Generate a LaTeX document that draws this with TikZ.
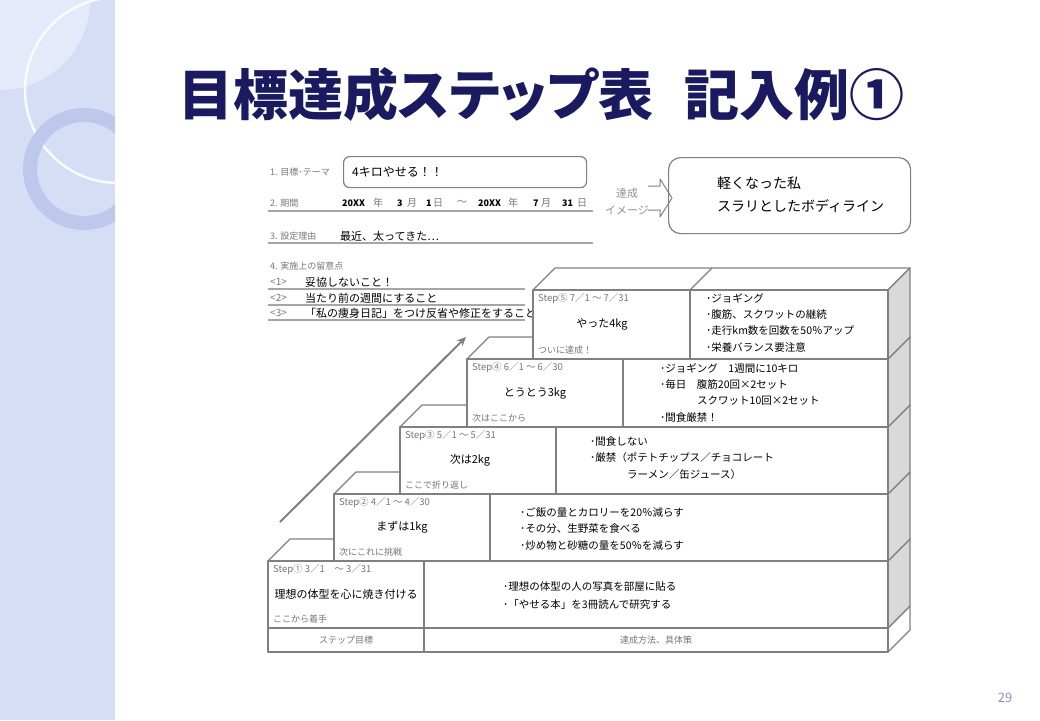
\documentclass[tikz,border=0pt]{standalone}
\usepackage{fontspec}
\setmainfont{Noto Sans CJK JP}
\newfontfamily\titlefont{Noto Sans CJK JP}[RawFeature=+palt]
\usetikzlibrary{arrows.meta}

\definecolor{sidebg}{RGB}{214,222,246}
\definecolor{sidelight}{RGB}{228,234,250}
\definecolor{ringblue}{RGB}{188,197,236}
\definecolor{titleblue}{RGB}{26,26,96}
\definecolor{linegray}{RGB}{128,128,128}
\definecolor{labelgray}{RGB}{118,118,118}
\definecolor{sidegray}{RGB}{217,217,217}
\definecolor{pagegray}{RGB}{140,146,190}

\tikzstyle{cell} = [draw=linegray, line width=1.2pt, fill=white, line join=round]
\tikzstyle{side face} = [cell, fill=sidegray]
\tikzstyle{greytext} = [font=\fontsize{9}{10}\selectfont, text=labelgray, inner sep=0pt, anchor=west]
\tikzstyle{hand} = [font=\fontsize{10.5}{12}\selectfont, text=black, inner sep=0pt, anchor=west]
\tikzstyle{form rule} = [draw=linegray!70, line width=1.5pt]
\tikzstyle{title text} = [font=\titlefont\bfseries\fontsize{55}{60}\selectfont, text=titleblue, inner sep=0pt]

\begin{document}
\begin{tikzpicture}[x=1pt,y=-1pt]
\useasboundingbox (0,0) rectangle (1040,720);

% sidebar
\fill[sidebg] (0,0) rectangle (115,720);
\begin{scope}
  \clip (0,0) rectangle (115,720);
  \fill[sidelight] (0,0) -- (90,0) arc[start angle=0, end angle=90, radius=90] -- cycle;
  \draw[white, opacity=0.85, line width=2.5pt] (118,90) circle[radius=93];
  \draw[ringblue, opacity=0.9, line width=14pt] (84,169) circle[radius=54];
\end{scope}

% title
\node[title text, anchor=west] (title) at (178,95) {目標達成ステップ表};
\node[title text, anchor=east] (titleno) at (905,95) {記入例①};

% form
\node[greytext] (themelbl) at (270,172) {1. 目標･テーマ};
\node[draw=linegray, line width=1.2pt, rounded corners=6pt, minimum width=243pt, minimum height=31pt, anchor=north west] (theme) at (343,156) {};
\node[hand, font=\fontsize{12}{14}\selectfont] (themetxt) at (352,172) {4キロやせる！！};

\node[greytext] (periodlbl) at (270,203) {2. 期間};
\foreach \x/\t [count=\i] in {342/20XX, 397/3, 426/1, 478/20XX, 533/7, 562/31}
  \node[hand, font=\bfseries\itshape\fontsize{9}{10}\selectfont] (num\i) at (\x,203) {\t};
\foreach \x/\t [count=\i] in {373/年, 407/月, 433/日, 457/～, 508/年, 541/月, 577/日}
  \node[greytext, font=\fontsize{10}{11}\selectfont] (unit\i) at (\x,203) {\t};
\draw[form rule] (268,211) -- (593,211);

\node[greytext] (reasonlbl) at (270,236) {3. 設定理由};
\node[hand, font=\fontsize{11}{12}\selectfont] (reason) at (340,236) {最近、太ってきた…};
\draw[form rule] (268,243) -- (593,243);

\node[greytext] (notelbl) at (270,266) {4. 実施上の留意点};
\foreach \y/\n/\txt in {282/1/{妥協しないこと！}, 298/2/{当たり前の週間にすること}, 313/3/{「私の痩身日記」をつけ反省や修正をすること}} {
  \node[greytext, font=\fontsize{10}{11}\selectfont] (pt\n) at (270,\y) {<\n>};
  \node[hand, font=\fontsize{11}{12}\selectfont] (point\n) at (305,\y) {\txt};
  \draw[form rule] (268,\y+7) -- (525,\y+7);
}

% image of success
\node[greytext, anchor=center, font=\fontsize{11}{12}\selectfont, text=labelgray!80] (imglbl1) at (627,193) {達成};
\node[greytext, anchor=center, font=\fontsize{11}{12}\selectfont, text=labelgray!80] (imglbl2) at (627,210) {イメージ};
\node[draw=linegray, line width=1.2pt, rounded corners=12pt, minimum width=242pt, minimum height=76pt, anchor=north west] (imagebox) at (668,157) {};
\node[hand, font=\fontsize{14}{16}\selectfont] (image1) at (717,183) {軽くなった私};
\node[hand, font=\fontsize{14}{16}\selectfont] (image2) at (717,206) {スラリとしたボディライン};
\draw[linegray, line width=1pt, line join=round] (648,186) -- (660,186) -- (660,179) -- (672,198) -- (660,217) -- (660,210) -- (648,210);

% staircase
\draw[cell] (268,628) -- (888,628) -- (910,606) -- (290,606) -- cycle;
\draw[cell] (888,652) -- (910,630) -- (910,606) -- (888,628) -- cycle;
\draw[cell] (268,628) rectangle (888,652);
\draw[cell] (424,628) -- (424,652);
\node[greytext, anchor=center] (goalhead) at (346,640) {ステップ目標};
\node[greytext, anchor=center] (methodhead) at (656,640) {達成方法、具体策};

\foreach \xl/\xd/\yt/\yb in {268/424/561/628, 334/490/494/561, 400/556/427/494, 467/623/359/427, 533/690/290/359} {
  \draw[cell] (\xl,\yt) -- (888,\yt) -- (910,\yt-22) -- (\xl+22,\yt-22) -- cycle;
  \draw[side face] (888,\yt) -- (910,\yt-22) -- (910,\yb-22) -- (888,\yb) -- cycle;
  \draw[cell] (\xl,\yt) rectangle (888,\yb);
  \draw[cell] (\xd,\yt) -- (\xd,\yb);
  \draw[cell] (\xd,\yt) -- (\xd+22,\yt-22);
}

\foreach \xl/\yt/\yb/\gx/\n/\step/\goal/\note in {
    268/561/628/78/1/{Step① 3／1　～ 3／31}/{理想の体型を心に焼き付ける}/{ここから着手},
    334/494/561/68/2/{Step② 4／1 ～ 4／30}/{まずは1kg}/{次にこれに挑戦},
    400/427/494/70/3/{Step③ 5／1 ～ 5／31}/{次は2kg}/{ここで折り返し},
    467/359/427/68/4/{Step④ 6／1 ～ 6／30}/{とうとう3kg}/{次はここから},
    533/290/359/69/5/{Step⑤ 7／1 ～ 7／31}/{やった4kg}/{ついに達成！}} {
  \node[greytext, font=\fontsize{9.5}{11}\selectfont] (step\n) at (\xl+5,\yt+9) {\step};
  \node[hand, anchor=center, font=\fontsize{11}{12}\selectfont] (goal\n) at (\xl+\gx,\yt/2+\yb/2) {\goal};
  \node[greytext] (note\n) at (\xl+5,\yb-9) {\note};
}

\foreach \pos/\name/\txt in {
    {(503,587)/plana/{･理想の体型の人の写真を部屋に貼る}},
    {(503,604)/planb/{･「やせる本」を3冊読んで研究する}},
    {(520,512)/planc/{･ご飯の量とカロリーを20％減らす}},
    {(520,529)/pland/{･その分、生野菜を食べる}},
    {(520,546)/plane/{･炒め物と砂糖の量を50％を減らす}},
    {(590,442)/planf/{･間食しない}},
    {(590,458)/plang/{･厳禁（ポテトチップス／チョコレート}},
    {(627,475)/planh/{ラーメン／缶ジュース）}},
    {(660,368)/plani/{･ジョギング　1週間に10キロ}},
    {(660,385)/planj/{･毎日　腹筋20回×2セット}},
    {(697,401)/plank/{スクワット10回×2セット}},
    {(660,417)/planl/{･間食厳禁！}},
    {(706,298)/planm/{･ジョギング}},
    {(706,315)/plann/{･腹筋、スクワットの継続}},
    {(706,331)/plano/{･走行km数を回数を50％アップ}},
    {(706,348)/planp/{･栄養バランス要注意}}} {
  \node[hand] (\name) at \pos {\txt};
}

% rising arrow
\coordinate (risefrom) at (280,522);
\coordinate (riseto) at (466,337);
\draw[linegray, line width=2pt, -{Stealth[length=9pt,width=8pt]}] (risefrom) -- (riseto);

\node[font=\fontsize{13}{14}\selectfont, text=pagegray] (pageno) at (1005,698) {29};
\end{tikzpicture}
\end{document}
